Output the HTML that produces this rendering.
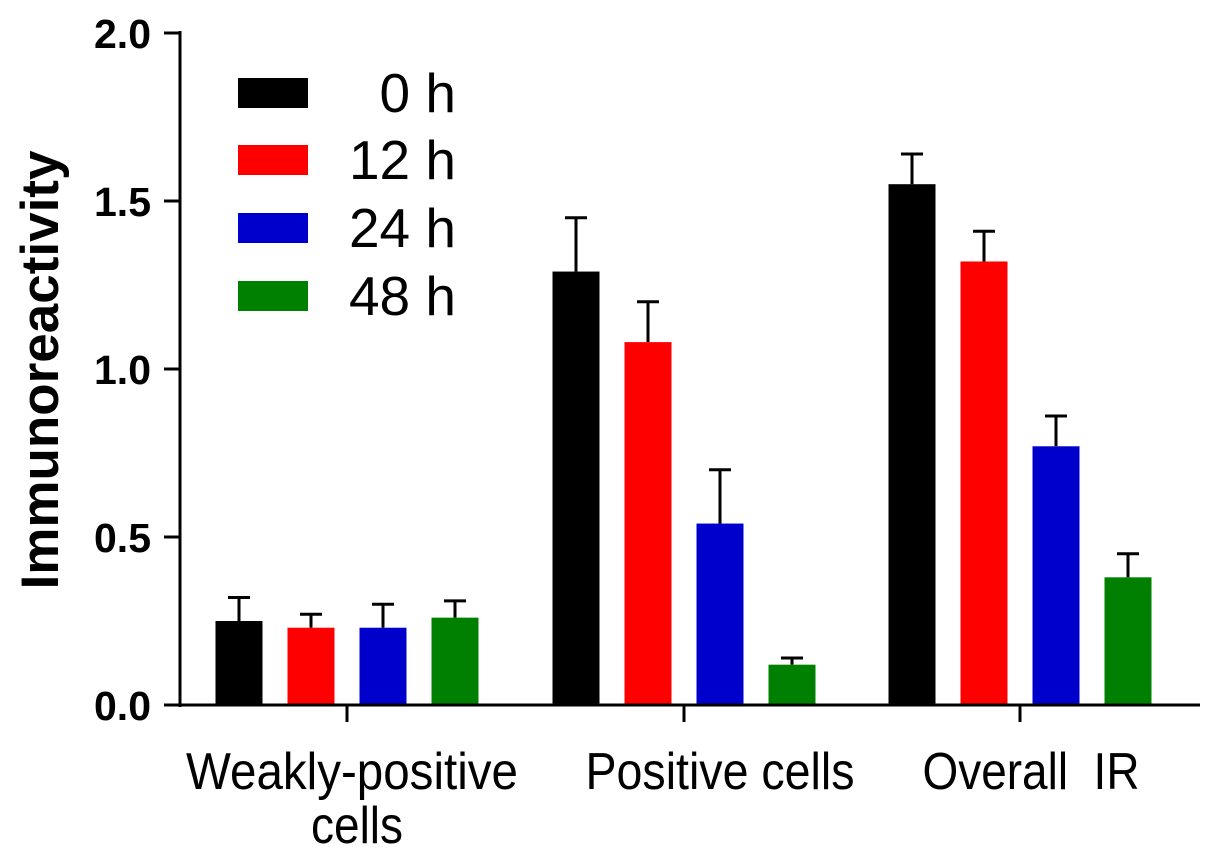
<!DOCTYPE html>
<html><head><meta charset="utf-8"><style>
body{margin:0;background:#fff;}
svg{display:block;font-family:"Liberation Sans",Arial,sans-serif;}
</style></head><body>
<svg id="chart" width="1205" height="852">
</svg>
<script>
const groups=["Weakly-positive cells","Positive cells","Overall  IR"];
const seriesNames=["0 h","12 h","24 h","48 h"];
const colors=["#000000","#ff0000","#0000cc","#008000"];
const v0=[0.25,1.29,1.55];
const v12=[0.23,1.08,1.32];
const v24=[0.23,0.54,0.77];
const v48=[0.26,0.12,0.38];
const e0=[0.07,0.16,0.09];
const e12=[0.04,0.12,0.09];
const e24=[0.07,0.16,0.09];
const e48=[0.05,0.02,0.07];
const yTicks=[0.0,0.5,1.0,1.5,2.0];
const values=[v0,v12,v24,v48];
const errs=[e0,e12,e24,e48];
const NS="http://www.w3.org/2000/svg";
const svg=document.getElementById('chart');
const y0=705,yTop=33,yMax=2.0;
function y(v){return y0-(v/yMax)*(y0-yTop);}
const groupCenters=[347,684,1020];
const labelCenters=[352,720,1031];
const labelWidths=[332,269,217];
function xBar(g,s){return groupCenters[g]+(s-1.5)*72;}
const bw=47;
function mk(tag,attrs,parent,style){const e=document.createElementNS(NS,tag);for(const k in attrs)e.setAttribute(k,attrs[k]);if(style)e.setAttribute('style',style);(parent||svg).appendChild(e);return e;}
for(let s=0;s<4;s++){for(let g=0;g<3;g++){
 const cx=xBar(g,s),v=values[s][g],top=y(v+errs[s][g]);
 const el=mk('line',{x1:cx,x2:cx,y1:y(v),y2:top,stroke:'#000','stroke-width':3});
 
 
 const cap=mk('line',{x1:cx-11,x2:cx+11,y1:top,y2:top,stroke:'#000','stroke-width':3});
 
 
 const r=mk('rect',{x:cx-bw/2,y:y(v),width:bw,height:y0-y(v),fill:colors[s]});
 
 
}}
const ya=mk('line',{x1:180,x2:180,y1:31,y2:707,stroke:'#000','stroke-width':3});


const xa=mk('line',{x1:179,x2:1200,y1:705,y2:705,stroke:'#000','stroke-width':3});


yTicks.forEach(t=>{
 mk('line',{x1:164,x2:180,y1:y(t),y2:y(t),stroke:'#000','stroke-width':3});
 const tx=mk('text',{x:151,y:y(t)+15,'text-anchor':'end'},null,'font-size:41px;font-weight:bold');
 tx.textContent=t.toFixed(1);
 
 
});
groups.forEach((g,i)=>{
 const cx=groupCenters[i];
 mk('line',{x1:cx,x2:cx,y1:705,y2:722,stroke:'#000','stroke-width':3});
 const lc=labelCenters[i];
 const tx=mk('text',{x:lc,y:789,'text-anchor':'middle',textLength:labelWidths[i],lengthAdjust:'spacingAndGlyphs'},null,'font-size:52px;white-space:pre');
 
 
 if(i===0){tx.textContent='Weakly-positive';
  const t2=mk('text',{x:357,y:843,'text-anchor':'middle',textLength:92,lengthAdjust:'spacingAndGlyphs'},null,'font-size:52px');t2.textContent='cells';
  
  }
 else tx.textContent=g;
});
const yt=mk('text',{x:0,y:0,'text-anchor':'middle',transform:'translate(58,370) rotate(-90)'},null,'font-size:53px;font-weight:bold');
yt.textContent='Immunoreactivity';


const ly=[93,160,228,296];
seriesNames.forEach((n,i)=>{
 const r=mk('rect',{x:238,y:ly[i]-15,width:70,height:30,fill:colors[i]});
 
 
 const t=mk('text',{x:456,y:ly[i]+19},null,'font-size:55px;text-anchor:end');
 t.textContent=n;
 
 
});
</script>
</body></html>
